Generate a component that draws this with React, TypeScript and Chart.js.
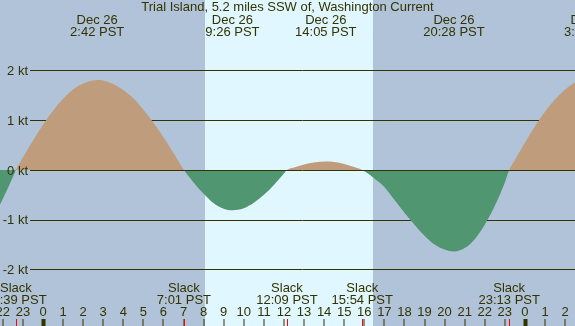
import React, { useEffect, useRef } from "react";
import { Chart, registerables } from "chart.js";

Chart.register(...registerables);

// Time in hours from midnight Dec 26 (PST), current in knots
const hours = [
  -2.5, -2.0, -1.5, -1.35, -1.0, -0.5, 0, 0.5, 1.0, 1.5, 2.0, 2.5, 2.7, 3.0, 3.5, 4.0, 4.5, 5.0, 5.5, 6.0, 6.5,
  7.02, 7.5, 8.0, 8.5, 9.0, 9.43, 10.0, 10.5, 11.0, 11.5, 12.0, 12.15, 12.5, 13.0, 13.5, 14.08, 14.5, 15.0, 15.5,
  15.9, 16.5, 17.0, 17.5, 18.0, 18.5, 19.0, 19.5, 20.0, 20.47, 21.0, 21.5, 22.0, 22.5, 23.0, 23.22, 23.5, 24.0,
  24.5, 25.0, 25.5, 26.0, 26.5, 27.0,
];
const knots = [
  -0.98, -0.58, -0.14, 0, 0.25, 0.59, 0.91, 1.19, 1.43, 1.62, 1.74, 1.8, 1.81, 1.8, 1.73, 1.61, 1.44, 1.21, 0.95, 0.66, 0.34,
  0, -0.25, -0.48, -0.67, -0.78, -0.81, -0.77, -0.66, -0.5, -0.3, -0.07, 0, 0.05, 0.11, 0.15, 0.17, 0.16, 0.12, 0.06,
  0, -0.17, -0.34, -0.6, -0.86, -1.1, -1.32, -1.5, -1.6, -1.64, -1.57, -1.39, -1.1, -0.72, -0.25, 0, 0.2, 0.55,
  0.88, 1.17, 1.42, 1.62, 1.76, 1.84,
];

const titleText = "Trial Island, 5.2 miles SSW of, Washington Current";

const peakTimes = [2.7, 9.433, 14.083, 20.467, 27.3];
const peakDates = ["Dec 26", "Dec 26", "Dec 26", "Dec 26", "Dec 27"];
const peakLabels = ["2:42 PST", "9:26 PST", "14:05 PST", "20:28 PST", "3:18 PST"];

const slackTimes = [-1.35, 7.017, 12.15, 15.9, 23.217];
const slackLabels = ["22:39 PST", "7:01 PST", "12:09 PST", "15:54 PST", "23:13 PST"];

const yTicks = [-2, -1, 0, 1, 2];
const yTickLabels = ["-2 kt", "-1 kt", "0 kt", "1 kt", "2 kt"];

const hourTicks = [-2, -1, 0, 1, 2, 3, 4, 5, 6, 7, 8, 9, 10, 11, 12, 13, 14, 15, 16, 17, 18, 19, 20, 21, 22, 23, 24, 25, 26];
const hourTickLabels = hourTicks.map((h) => String(((h % 24) + 24) % 24));

const sunrise = 8.07;
const sunset = 16.43;

const X_MIN = -2.141;
const X_MAX = 26.494;
const Y_MIN = -3.136;
const Y_MAX = 3.417;

const NIGHT = "rgb(176,195,216)";
const DAY = "rgb(224,247,255)";
const FLOOD = "rgb(191,156,123)";
const EBB = "rgb(80,150,112)";
const INK = "#333300";
const FONT = "13px 'Liberation Sans', Arial, sans-serif";

const tidePlugin = {
  id: "tidePlugin",
  beforeDatasetsDraw(chart: any) {
    const { ctx, scales, width, height } = chart;
    const xs = scales.x;
    const ys = scales.y;
    ctx.save();
    const xr = xs.getPixelForValue(sunrise);
    const xsn = xs.getPixelForValue(sunset);
    ctx.fillStyle = NIGHT;
    ctx.fillRect(0, 0, width, height);
    ctx.fillStyle = DAY;
    ctx.fillRect(Math.round(xr), 0, Math.round(xsn) - Math.round(xr), height);
    // grid lines (behind fill)
    ctx.strokeStyle = INK;
    ctx.lineWidth = 1;
    yTicks.forEach((v) => {
      if (v === 0) return;
      const y = Math.round(ys.getPixelForValue(v)) + 0.5;
      ctx.beginPath();
      ctx.moveTo(30, y);
      ctx.lineTo(width, y);
      ctx.stroke();
    });
    ctx.restore();
  },
  afterDatasetsDraw(chart: any) {
    const { ctx, scales, width, height } = chart;
    const xs = scales.x;
    const ys = scales.y;
    ctx.save();
    ctx.strokeStyle = INK;
    ctx.lineWidth = 1;
    const y0 = Math.round(ys.getPixelForValue(0)) + 0.5;
    ctx.beginPath();
    ctx.moveTo(30, y0);
    ctx.lineTo(width, y0);
    ctx.stroke();

    ctx.fillStyle = INK;
    ctx.font = FONT;
    ctx.textBaseline = "alphabetic";
    // y labels
    ctx.textAlign = "right";
    yTicks.forEach((v, i) => {
      const y = ys.getPixelForValue(v);
      ctx.fillText(yTickLabels[i], 28, y + 4.7);
    });
    // title
    ctx.textAlign = "center";
    ctx.fillText(titleText, width / 2, 11);
    // peak labels
    peakTimes.forEach((t, i) => {
      const x = xs.getPixelForValue(t);
      ctx.fillText(peakDates[i], x, 24);
      ctx.fillText(peakLabels[i], x, 36);
    });
    // slack labels
    slackTimes.forEach((t, i) => {
      const x = xs.getPixelForValue(t);
      ctx.fillText("Slack", x, 291.5);
      ctx.fillText(slackLabels[i], x, 303.5);
    });
    // hour ticks
    hourTicks.forEach((h, i) => {
      const x = xs.getPixelForValue(h);
      ctx.fillStyle = INK;
      ctx.fillText(hourTickLabels[i], x, 315.7);
      const midnight = ((h % 24) + 24) % 24 === 0;
      if (midnight) {
        ctx.fillRect(Math.round(x) - 1.5, 319, 4, height - 319);
      } else {
        ctx.fillRect(Math.round(x) - 0.5, 319, 1, height - 319);
      }
    });
    ctx.fillStyle = "red";
    slackTimes.forEach((t) => {
      const x = xs.getPixelForValue(t);
      ctx.fillRect(Math.round(x), 319, 1, height - 319);
    });
    ctx.restore();
  },
};

export default function App() {
  const ref = useRef<HTMLCanvasElement | null>(null);
  useEffect(() => {
    document.body.style.margin = "0";
    const canvas = ref.current;
    if (!canvas) return;
    const chart = new Chart(canvas, {
      type: "line",
      data: {
        datasets: [
          {
            data: hours.map((h, i) => ({ x: h, y: knots[i] })),
            borderWidth: 0,
            borderColor: "rgba(0,0,0,0)",
            pointRadius: 0,
            cubicInterpolationMode: "monotone",
            fill: { target: "origin", above: FLOOD, below: EBB },
          },
        ],
      },
      options: {
        animation: false,
        responsive: false,
        devicePixelRatio: 1,
        events: [],
        layout: { padding: 0 },
        plugins: { legend: { display: false }, tooltip: { enabled: false }, title: { display: false } },
        scales: {
          x: { type: "linear", min: X_MIN, max: X_MAX, display: false },
          y: { type: "linear", min: Y_MIN, max: Y_MAX, display: false },
        },
      },
      plugins: [tidePlugin],
    } as any);
    return () => chart.destroy();
  }, []);
  return (
    <div style={{ position: "absolute", left: 0, top: 0, width: 575, height: 326 }}>
      <canvas ref={ref} width={575} height={326} style={{ display: "block", width: 575, height: 326 }} />
    </div>
  );
}
